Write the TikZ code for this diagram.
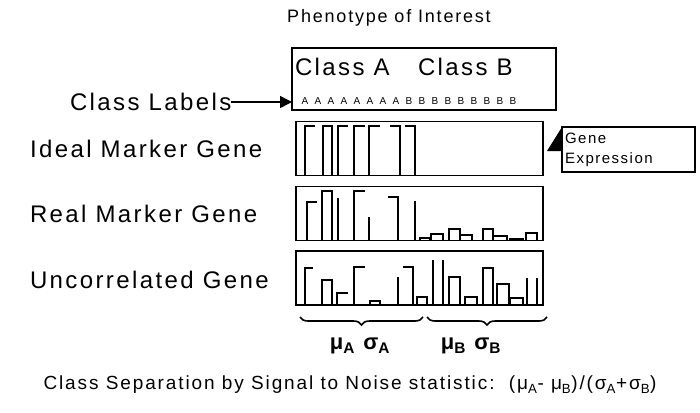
\documentclass[tikz,border=0pt]{standalone}
\usepackage{fontspec}
\setmainfont{Liberation Sans}[LetterSpace=10]
\usetikzlibrary{arrows.meta,decorations.pathreplacing}

% bar outlines: Gamma shape, mirrored Gamma, closed top
\newcommand{\barL}[3]{\draw[genebar] (#1,0) -- (#1,-#3) -- ++(#2,0);}
\newcommand{\barR}[3]{\draw[genebar] (#1,-#3) -- ++(#2,0) -- ++(0,#3);}
\newcommand{\barU}[3]{\draw[genebar] (#1,0) -- (#1,-#3) -- ++(#2,0) -- ++(0,#3);}

\begin{document}
\begin{tikzpicture}[x=1pt,y=-1pt,inner sep=0pt,outer sep=0pt,
genebox/.style={draw,rectangle,line width=1.6pt,minimum width=247pt,minimum height=54pt},
genebar/.style={line width=1.6pt},
rowlbl/.style={anchor=west,font=\fontsize{24}{26}\selectfont},
clslbl/.style={font=\fontsize{10}{12}\selectfont},
grpbrace/.style={decorate,decoration={brace,mirror,amplitude=8pt},line width=1.6pt}]
\useasboundingbox (0,0) rectangle (700,412);

\node[font=\fontsize{18}{22}\selectfont] (title) at (389,18) {Phenotype of Interest};

\node[genebox,minimum width=264pt,minimum height=62pt] (labels) at (424,79) {};
\node[rowlbl] (clsA) at (295,67) {Class A};
\node[rowlbl] (clsB) at (418,67) {Class B};
\foreach \i in {0,...,7} \node[clslbl] (a\i) at (305+13*\i,101) {A};
\foreach \i in {0,...,8} \node[clslbl] (b\i) at (409+13*\i,101) {B};

\node[genebox] (ideal) at (419.5,148.5) {};
\node[genebox] (real) at (419.5,213.5) {};
\node[genebox] (uncorr) at (419.5,278) {};

\node[rowlbl] (cl) at (70,102) {Class Labels};
\node[rowlbl] (idl) at (30,149) {Ideal Marker Gene};
\node[rowlbl] (rl) at (30,214) {Real Marker Gene};
\node[rowlbl] (ucl) at (30,280) {Uncorrelated Gene};
\draw[-{Triangle[length=12pt,width=12pt]},line width=1.6pt] (cl.east) -- (cl.east -| labels.west);

\node[draw,line width=1.6pt,minimum width=133pt,minimum height=45pt,text width=127pt,align=left,
  font=\fontsize{15}{20}\selectfont] (gexpr) at (628.5,149.5) {Gene\\Expression};
\fill (gexpr.north west) -- ++(-15,24) -- ++(15,0) -- cycle;

% ideal marker
\begin{scope}[shift={(0,175)}]
\foreach \x/\w/\h/\t in {305/10/49/L,323/9/49/U,338/10/49/L,354/11/49/L,369/11/49/L,390/10/49/R,405/10/49/R}
  {\csname bar\t\endcsname{\x}{\w}{\h}}
\end{scope}
% real marker
\begin{scope}[shift={(0,240)}]
\foreach \x/\w/\h/\t in {307/10/38/L,322/10/49/U,338/0/42/L,354/11/49/L,369/0/23/L,388/10/43/R,415/0/39/L,
  420/10/2/U,431/12/6/U,449/11/11/U,460/12/5/U,483/10/11/U,493/14/4/U,510/13/1/U,526/11/7/U}
  {\csname bar\t\endcsname{\x}{\w}{\h}}
\end{scope}
% uncorrelated
\begin{scope}[shift={(0,304)}]
\foreach \x/\w/\h/\t in {305/8/36/L,322/10/24/U,337/11/11/L,354/11/37/L,370/10/3/U,398/0/27/L,403/10/37/R,
  417/10/7/U,433/0/44/L,443/0/44/L,449/11/27/U,465/12/7/U,483/10/36/U,497/12/20/U,510/13/6/U,527/0/26/L,537/0/26/L}
  {\csname bar\t\endcsname{\x}{\w}{\h}}
\end{scope}

\coordinate (bA1) at (300,317);
\coordinate (bA2) at (423,317);
\coordinate (bB1) at (427,317);
\coordinate (bB2) at (547,317);
\draw[grpbrace] (bA1) -- (bA2);
\draw[grpbrace] (bB1) -- (bB2);
\node[font=\bfseries\fontsize{22}{24}\selectfont] (statA) at (360,346) {μ\textsubscript{A} σ\textsubscript{A}};
\node[font=\bfseries\fontsize{22}{24}\selectfont] (statB) at (471,346) {μ\textsubscript{B} σ\textsubscript{B}};

\node[font=\fontsize{19}{22}\selectfont] (snr) at (350,385)
  {Class Separation by Signal to Noise statistic:\ \ (μ\textsubscript{A}- μ\textsubscript{B})/(σ\textsubscript{A}+σ\textsubscript{B})};
\end{tikzpicture}
\end{document}
